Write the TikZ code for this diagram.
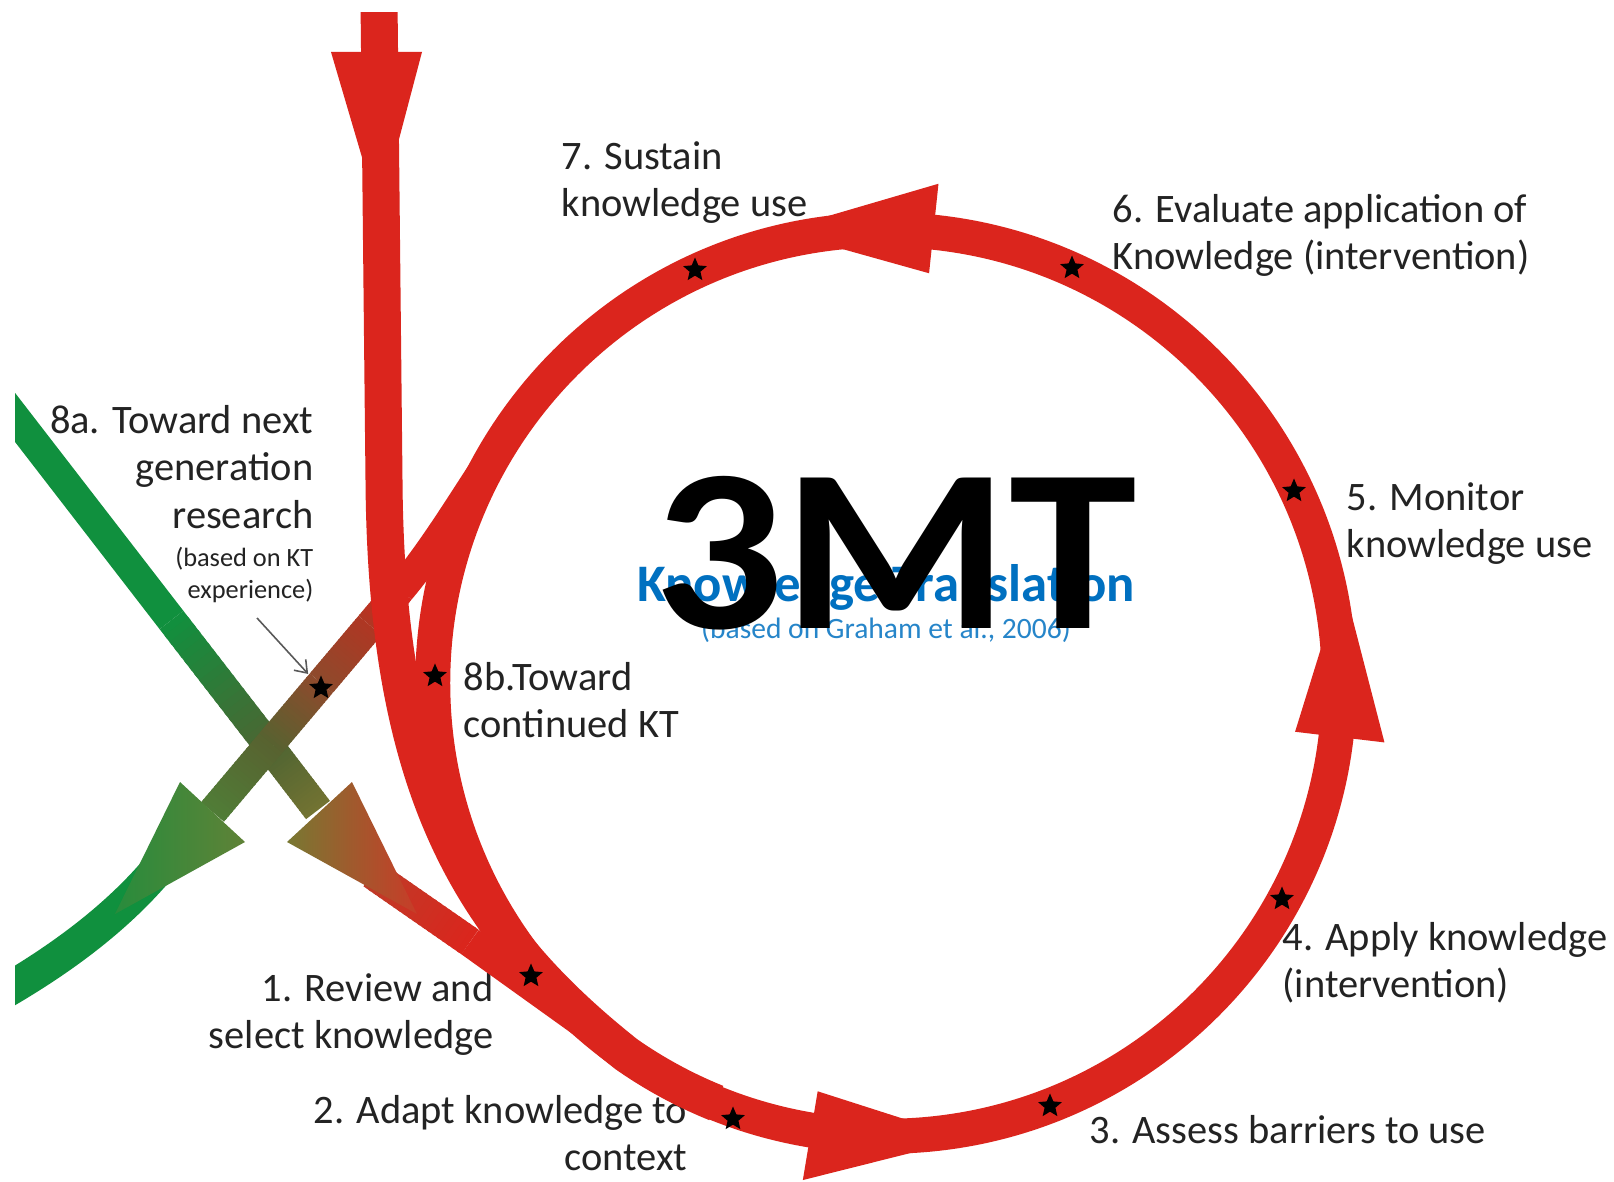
\documentclass[tikz,border=0pt]{standalone}
\usepackage{fontspec}
\setmainfont{Carlito}
\usetikzlibrary{calc,shapes.geometric,arrows.meta}
\definecolor{kred}{RGB}{219,37,29}
\definecolor{kgreen}{RGB}{16,144,62}
\definecolor{kblue}{RGB}{0,112,192}
\definecolor{ktext}{RGB}{35,35,35}
\definecolor{ga1}{RGB}{175,55,35}
\definecolor{ga2}{RGB}{142,74,44}
\definecolor{ga3}{RGB}{88,98,48}
\definecolor{ga4}{RGB}{80,125,55}
\definecolor{gb1}{RGB}{78,100,50}
\definecolor{gb2}{RGB}{115,115,50}
\definecolor{headA}{RGB}{40,140,60}
\definecolor{headAb}{RGB}{95,130,55}
\definecolor{headBb}{RGB}{120,120,50}
\definecolor{headB}{RGB}{200,60,40}
\definecolor{gc1}{RGB}{190,60,40}
\newcommand{\gradline}[5]{%
  \foreach \k in {0,...,19}{%
    \pgfmathsetmacro{\ga}{\k/20}%
    \pgfmathsetmacro{\gb}{min(1,(\k+1.5)/20)}%
    \pgfmathsetmacro{\gp}{100-5*(\k+0.5)}%
    \draw[lw=#5, draw=#3!\gp!#4] ($(#1)!\ga!(#2)$) -- ($(#1)!\gb!(#2)$);
  }}
\begin{document}
\begin{tikzpicture}[x=0.01cm,y=-0.01cm,
  lw/.style={line width=#1*0.01cm},
  lbl/.style={font=\fontsize{11.5}{13.5}\selectfont, text=ktext, inner sep=0pt},
  lblsmall/.style={font=\fontsize{7.5}{9.1}\selectfont, text=ktext, inner sep=0pt},
  starmark/.style={star, star points=5, star point ratio=2.2, fill=black, draw=none, minimum size=0.25cm, inner sep=0pt},
]
\fill[white] (0,0) rectangle (1614,1182);
\useasboundingbox (0,0) rectangle (1614,1182);
\coordinate (C) at (886,683);

% ---- labels (under the arrows); base = baseline of the last line
\node[lbl, anchor=base west, align=left] (t7) at (561,216.5) {7. Sustain\\knowledge use};
\node[lbl, anchor=base west, align=left] (t6) at (1112,269.5) {6. Evaluate application of\\Knowledge (intervention)};
\node[lbl, anchor=base west, align=left] (t5) at (1346,557.5) {5. Monitor\\knowledge use};
\node[lbl, anchor=base west, align=left] (t4) at (1282,997.5) {4. Apply knowledge\\(intervention)};
\node[lbl, anchor=base west, align=left] (t3) at (1089,1143) {3. Assess barriers to use};
\node[lbl, anchor=base east, align=right] (t2) at (688,1170.5) {2. Adapt knowledge to\\context};
\node[lbl, anchor=base east, align=right] (t1) at (494,1048.5) {1. Review and\\select knowledge};
\node[lbl, anchor=base west, align=left] (t8b) at (463,737.5) {8b.Toward\\continued KT};
\node[lbl, anchor=base east, align=right] (t8a) at (314,528) {8a. Toward next\\generation\\research};
\node[lblsmall, anchor=base east, align=right] (t8as) at (314,599) {(based on KT\\experience)};
\node[font=\fontsize{15}{18}\selectfont\bfseries, text=kblue, anchor=base, inner sep=0pt] (kt) at (886,602) {Knowledge Translation};
\node[font=\fontsize{8.4}{10}\selectfont, text=kblue!85, anchor=base, inner sep=0pt] (kg) at (886,639) {(based on Graham et al., 2006)};

\begin{scope}
\clip (15,13) rectangle (1614,1182);
% ---- green line from the upper left
\coordinate (g0) at (-10,385);
\coordinate (g1) at (171.5,620);
\coordinate (g2) at (270.5,748);
\coordinate (g3) at (318,810);
\draw[kgreen, lw=30] (g0) -- (g1);
\gradline{g1}{g2}{kgreen}{gb1}{30}
\gradline{g2}{g3}{gb1}{gb2}{30}
\coordinate (r0) at (372,874);
\coordinate (r1) at (470,942);
\coordinate (r2) at ($(C)+(124.5:453)$);
\gradline{r0}{r1}{gc1}{kred}{30}
\draw[kred, lw=30] (r1) -- (r2) arc[start angle=124.5, end angle=112, radius=453];
\shade[left color=headBb, right color=headB] (287,842) -- (352,782) -- (417,914) -- cycle;

% ---- branch 8a
\coordinate (a0) at (400,590);
\coordinate (a1) at (370,625.5);
\coordinate (a2) at (321.25,683.2);
\coordinate (a3) at (270.6,743.2);
\coordinate (a4) at (212.5,812);
\draw[kred, lw=30] ($(C)+(225:453)$) .. controls (502,426) and (458,521) .. (a0);
\gradline{a0}{a1}{kred}{ga1}{30}
\gradline{a1}{a2}{ga1}{ga2}{30}
\gradline{a2}{a3}{ga2}{ga3}{30}
\gradline{a3}{a4}{ga3}{ga4}{30}
\draw[kgreen, lw=34] (175,850) -- (150,878) .. controls (115,917) and (65,958) .. (-10,1000);
\shade[left color=headA, right color=headAb] (180,782) -- (245,842) -- (115,914) -- cycle;

% ---- main loop
\draw[kred, lw=35] (C) circle[radius=4.53cm];
\fill[kred] ($(C)+(276:412)$) -- ($(C)+(276:502)$) -- ($(C)+(256.5:465)$) -- cycle;
\fill[kred] ($(C)+(6.8:412)$) -- ($(C)+(6.8:502)$) -- ($(C)+(-12.8:468)$) -- cycle;
\fill[kred] ($(C)+(99.5:414)$) -- ($(C)+(99.5:504)$) -- ($(C)+(80:463)$) -- cycle;

% ---- vertical line from the top
\coordinate (v0) at (379,0);
\coordinate (v1) at ($(C)+(125:453)$);
\draw[kred, lw=37] (v0) -- (384,480) .. controls (386,790) and (470,930) .. (v1) arc[start angle=125, end angle=112, radius=453];
\fill[kred] (331,52) -- (422,52) -- (379,215) -- cycle;
\end{scope}

% ---- stars
\node[starmark] (s7) at (695,270) {};
\node[starmark] (s6) at (1072,268) {};
\node[starmark] (s5) at (1294,491) {};
\node[starmark] (s4) at (1282,899) {};
\node[starmark] (s3) at (1050,1106) {};
\node[starmark] (s2) at (733,1119) {};
\node[starmark] (s1) at (531,976) {};
\node[starmark] (s8b) at (435,676) {};
\node[starmark] (s8a) at (321,688) {};

\coordinate (ptr) at (257,618);
\draw[black!65, line width=0.45pt, -{Straight Barb[length=0.11cm,width=0.16cm]}, shorten >=0.12cm] (ptr) -- (s8a);

% ---- title overlay
\node[font=\fontsize{66}{70}\selectfont\bfseries, text=black, anchor=base, inner sep=0pt] (mt) at (895,628) {\scalebox{1.11}[1]{3MT}};
\end{tikzpicture}
\end{document}
